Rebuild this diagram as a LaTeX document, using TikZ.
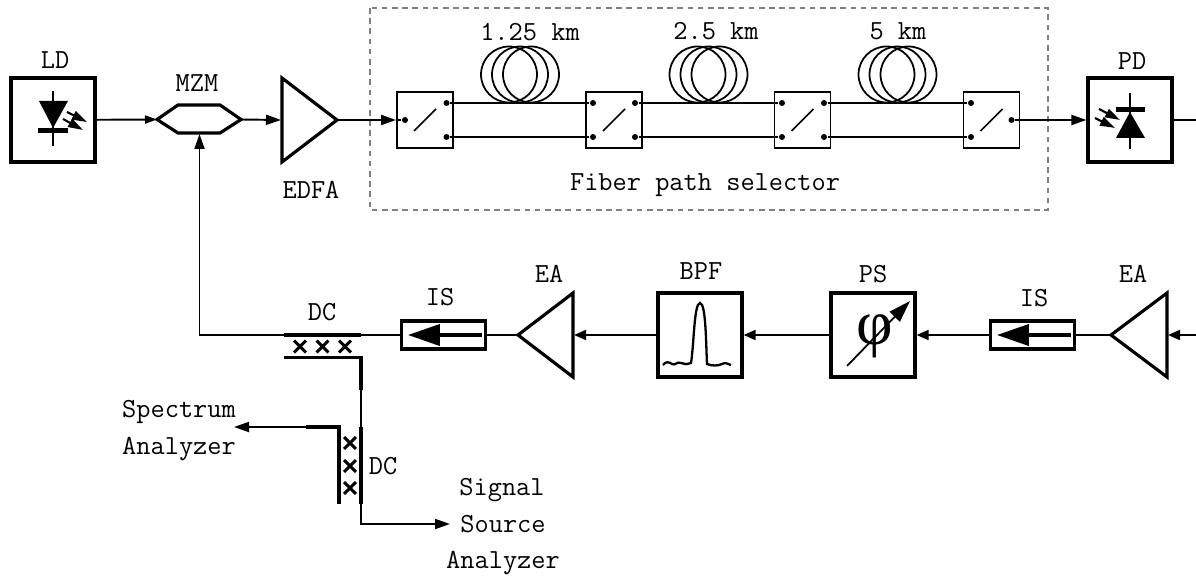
\documentclass[tikz,border=0pt]{standalone}
\usepackage{fontspec}
\usepackage{tikz}
\usetikzlibrary{arrows.meta,shapes.misc}
\newfontfamily\phifont{Liberation Serif}

\begin{document}
\begin{tikzpicture}[x=0.02cm,y=-0.02cm,line width=1.1pt,>={Triangle[length=3mm,width=2mm]}]
	\useasboundingbox (0,0) rectangle (1196,577);
	\tikzstyle{txt}=[inner sep=0pt, anchor=base, font=\fontsize{15.7}{18}\selectfont\ttfamily]
	\tikzstyle{main}=[rectangle, minimum size=1.68cm, inner sep=0pt, draw=black, line width=1.8pt]
	\tikzstyle{switchbox}=[rectangle, minimum size=1.12cm, inner sep=0pt, draw=black, line width=1.1pt]
	\tikzstyle{isolator}=[rectangle, minimum width=1.68cm, minimum height=0.56cm, inner sep=0pt, draw=black, line width=1.8pt]
	\tikzstyle{dot}=[circle, fill=black, minimum size=0.12cm, inner sep=0pt]
	\tikzstyle{coil}=[circle, minimum size=1.12cm, inner sep=0pt, draw=black, line width=1pt]
	\tikzstyle{xmark}=[cross out, draw=black, line width=1.7pt, minimum size=0.18cm, inner sep=0pt]
	\tikzstyle{heavy}=[line width=1.8pt]
	\tikzstyle{pump}=[line width=1.2pt, -{Triangle[length=3mm,width=1.8mm]}]
	\tikzstyle{inner}=[line width=2.2pt, -{Triangle[length=6.4mm,width=4.2mm]}]

	\foreach \name/\x/\y/\word in {lLD/55/69/LD,lMZM/197/92/MZM,lEDFA/311/199/EDFA,lPD/1132/70/PD,lKa/530/41/{1.25 km},lKb/716/40/{2.5 km},lKc/898/40/{5 km},lSel/705/191/{Fiber path selector},lEAa/1133/283/EA,lISa/1034/307/IS,lPS/873/283/PS,lBPF/701/280/BPF,lEAb/549/283/EA,lISb/440/306/IS,lDCa/322/320/DC,lDCb/383/474/DC,lSpa/179/417/Spectrum,lSpb/179/454/Analyzer,lSia/502/495/Signal,lSib/503/532/Source,lSic/503/568/Analyzer} {
	    \node[txt] (\name) at (\x,\y) {\word};
	}
	\draw[gray, line width=1.1pt, dash pattern=on 3.2pt off 2.6pt] (370,8) rectangle (1048,210);

	\node[main] (ld) at (53,120) {};
	\node[main] (pd) at (1130,120) {};
	\node[main] (ps) at (873,335) {};
	\node[main] (bpf) at (700,335) {};
	\node[isolator] (isa) at (1032.5,335) {};
	\node[isolator] (isb) at (443.5,335) {};
	\foreach \i in {a,b} {
	    \draw[inner] ([xshift=-0.1cm]is\i.east) -- ([xshift=0.16cm]is\i.west);
	}

	% diodes
	\coordinate (ldt) at (53,91);
	\coordinate (ldb) at (53,146);
	\draw[line width=1pt] (ldt) -- (ldb);
	\fill (39,101) -- (68,101) -- (53,128) -- cycle;
	\fill (38,128) rectangle (68,133);
	\draw[pump] (67,112) -- (87,122);
	\draw[pump] (63,119) -- (83,130);
	\coordinate (pdt) at (1130,93);
	\coordinate (pdb) at (1130,149);
	\draw[line width=1pt] (pdt) -- (pdb);
	\fill (1130,112) -- (1116,138) -- (1145,138) -- cycle;
	\fill (1116,107) rectangle (1145,112);
	\draw[pump] (1099,109) -- (1120,120);
	\draw[pump] (1095,118) -- (1115,128);

	% modulator and amplifiers
	\draw[heavy] (157,119.5) -- (178,105) -- (220,105) -- (241,119.5) -- (220,133) -- (178,133) -- cycle;
	\coordinate (mzmi) at (157,119.5);
	\coordinate (mzmo) at (241,119.5);
	\coordinate (mzmc) at (199.5,134);
	\draw[heavy] (282,78) -- (337,120) -- (282,162) -- cycle;
	\coordinate (edfai) at (281,120);
	\coordinate (edfao) at (337,120);
	\draw[heavy] (1167,293) -- (1111,335) -- (1167,377) -- cycle;
	\coordinate (eaai) at (1168,335);
	\coordinate (eaao) at (1111,335);
	\draw[heavy] (573,293) -- (518,335) -- (573,377) -- cycle;
	\coordinate (eabi) at (574,335);
	\coordinate (eabo) at (518,335);

	% switches
	\foreach \i/\x in {1/425,2/614,3/802.5,4/991.5} {
	    \node[switchbox] (s\i) at (\x,120) {};
	    \draw[line width=0.9pt] (\x-11,131) -- (\x+11,109);
	}
	\node[dot] (in1) at (405,120) {};
	\node[dot] (ot1) at (446.5,103) {};
	\node[dot] (ob1) at (446.5,137) {};
	\node[dot] (it2) at (593,103) {};
	\node[dot] (ib2) at (593,137) {};
	\node[dot] (ot2) at (635,103) {};
	\node[dot] (ob2) at (635,137) {};
	\node[dot] (it3) at (782,103) {};
	\node[dot] (ib3) at (782,137) {};
	\node[dot] (ot3) at (824,103) {};
	\node[dot] (ob3) at (824,137) {};
	\node[dot] (it4) at (971,103) {};
	\node[dot] (ib4) at (971,137) {};
	\node[dot] (ou4) at (1011.5,120) {};
	\path (ot1) edge (it2);
	\path (ob1) edge (ib2);
	\path (ot2) edge (it3);
	\path (ob2) edge (ib3);
	\path (ot3) edge (it4);
	\path (ob3) edge (ib4);
	\foreach \i/\x in {1/520,2/708.5,3/897.5} {
	    \node[coil] (ca\i) at (\x-11,74.5) {};
	    \node[coil] (cb\i) at (\x,74.5) {};
	    \node[coil] (cc\i) at (\x+11,74.5) {};
	}

	% phase shifter and filter
	\node[inner sep=0pt] (phi) at (875,336) {\fontsize{36}{36}\selectfont\phifont φ};
	\coordinate (psa) at (847,366);
	\coordinate (psb) at (910,301);
	\draw[line width=1pt, -{Triangle[length=4.4mm,width=2.8mm]}] (psa) -- (psb);
	\draw[line width=1.3pt] (663,365) .. controls (666,361) and (669,362) .. (672,364) .. controls (675,366) and (677,361) .. (681,363) .. controls (684,365) and (687,364) .. (691,363)
	    .. controls (694,345) and (694,303) .. (700,303) .. controls (706,303) and (706,345) .. (707,364) .. controls (712,366) and (718,366) .. (722,364) .. controls (725,362) and (728,364) .. (731,365);

	% couplers
	\coordinate (dcal) at (284,335);
	\coordinate (dcar) at (361,335);
	\coordinate (dcbl) at (284,357.5);
	\coordinate (dcbr) at (361,357.5);
	\coordinate (dcbe) at (361,390);
	\coordinate (dcct) at (361,427);
	\coordinate (dccb) at (361,504);
	\coordinate (dcdt) at (339,427);
	\coordinate (dcdb) at (339,504);
	\coordinate (dcde) at (306,427);
	\draw[heavy] (dcal) -- (dcar);
	\draw[heavy] (dcbl) -- (dcbr) -- (dcbe);
	\draw[heavy] (dcct) -- (dccb);
	\draw[heavy] (dcde) -- (dcdt) -- (dcdb);
	\foreach \i/\x in {1/300,2/322.5,3/345} {
	    \node[xmark] (xa\i) at (\x,346.5) {};
	}
	\foreach \i/\y in {1/443,2/466,3/488} {
	    \node[xmark] (xb\i) at (350,\y) {};
	}

	% connections
	\coordinate (out) at (1196,120);
	\coordinate (back) at (1196,335);
	\coordinate (corner) at (199.5,335);
	\coordinate (sa) at (234,427);
	\coordinate (turn) at (361,524);
	\coordinate (ssa) at (450,524);
	\path (ld) edge[->, >={Triangle[length=2.4mm,width=1.6mm]}] (mzmi);
	\path (mzmo) edge[->] (edfai);
	\path (edfao) edge[->] (s1);
	\path (s1.west) edge (in1);
	\path (ou4) edge[->] (pd);
	\path (pd) edge (out);
	\path (back) edge[->, >={Triangle[length=2.4mm,width=2mm]}] (eaai);
	\path (eaao) edge (isa);
	\path (isa) edge[->, >={Triangle[length=2.4mm,width=2mm]}] (ps);
	\path (ps) edge[->, >={Triangle[length=2.4mm,width=2mm]}] (bpf);
	\path (bpf) edge[->, >={Triangle[length=2.4mm,width=2mm]}] (eabi);
	\path (eabo) edge (isb);
	\path (isb) edge (dcar);
	\draw[->] (dcal) -- (corner) -- (mzmc);
	\path (dcbe) edge (dcct);
	\path (dcde) edge[->] (sa);
	\draw[->] (dccb) -- (turn) -- (ssa);
\end{tikzpicture}
\end{document}
